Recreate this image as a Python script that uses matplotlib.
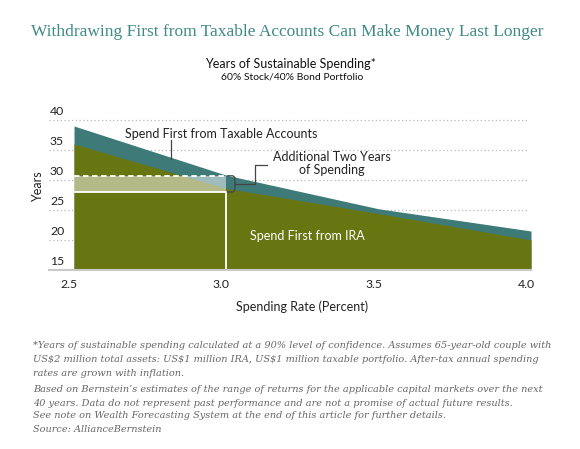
import numpy as np
import matplotlib
matplotlib.use("Agg")
import matplotlib.pyplot as plt
from matplotlib.transforms import blended_transform_factory as blend

# data
rate = [2.5, 3.0, 3.5, 4.0]
taxable_first = [39.0, 30.8, 25.2, 21.5]
ira_first = [36.0, 28.6, 24.4, 20.0]
gain_low, gain_high = 28.0, 30.7   # the "additional two years" band at 3.0%
xticks = [2.5, 3.0, 3.5, 4.0]
yticks = [15, 20, 25, 30, 35, 40]

teal = "#3e7a78"
olive = "#687612"
sans = "Lato"
fs = 9

fig = plt.figure(figsize=(5.8, 4.49), dpi=100)
W, H = 580, 449
ax = fig.add_axes([74 / W, 1 - 270 / H, (531 - 74) / W, 150 / H])
ax.set_xlim(2.5, 4.0)
ax.set_ylim(15, 40)
for s in ax.spines.values():
    s.set_visible(False)
ax.set_xticks([])
ax.set_yticks([])

# dotted grid that runs in under the tick labels
for v in yticks[1:]:
    ax.axhline(v, xmin=-25 / 457, xmax=0.994, color="#b8b8b8", lw=0.9,
               ls=(0, (1, 2)), clip_on=False, zorder=0)
ax.axhline(15, xmin=-25 / 457, xmax=1.0, color="#c9c9c9", lw=1.5,
           clip_on=False, zorder=5)

ax.fill_between(rate, 15, taxable_first, color=teal, lw=0, zorder=1)
ax.fill_between(rate, 15, ira_first, color=olive, lw=0, zorder=2)

# highlighted band from 2.5 to 3.0
ax.fill_between([2.5, 3.0], gain_low, gain_high, color="white", alpha=0.5,
                lw=0, zorder=3)
ax.plot([2.5, 3.0], [gain_high, gain_high], color="white", lw=1.3,
        ls=(0, (3, 2)), zorder=4)
ax.plot([2.5, 3.0, 3.0], [gain_low, gain_low, 15], color="white", lw=1.3,
        zorder=4)

# bracket + leader
ax.plot([3.004, 3.022, 3.028, 3.028, 3.022, 3.004],
        [30.7, 30.7, 30.4, 28.3, 28.0, 28.0], color="#444444", lw=0.9, zorder=4)
ax.plot([3.028, 3.095, 3.095, 3.135], [29.4, 29.4, 32.5, 32.5],
        color="#444444", lw=0.9, zorder=4)
ax.text(3.345, 32.7, "Additional Two Years\nof Spending", ha="center",
        va="center", fontsize=fs, family=sans, color="#222222", linespacing=1.1)

ax.text(2.982, 37.6, "Spend First from Taxable Accounts", ha="center",
        va="center", fontsize=fs, family=sans, color="#222222")
ax.plot([2.817, 2.817], [36.7, 33.5], color="#444444", lw=0.9, zorder=4)

ax.text(3.265, 20.7, "Spend First from IRA", ha="center", va="center",
        fontsize=fs, family=sans, color="white", zorder=6)

# tick labels
tr = blend(ax.transAxes, ax.transData)
for v in yticks:
    ax.text(-24 / 457, v + 1.35, str(v), ha="left", va="center", fontsize=8.8,
            family=sans, color="#222222", transform=tr)
trx = blend(ax.transData, ax.transAxes)
for v in xticks:
    ax.text(v - 5 / 304.7, -15 / 150, "%.1f" % v, ha="center", va="center",
            fontsize=8.8, family=sans, color="#222222", transform=trx)

ax.text(0.5, -36.7 / 150, "Spending Rate (Percent)", ha="center", va="center",
        fontsize=fs, family=sans, color="#222222", transform=ax.transAxes)
ax.text(-36 / 457, 0.555, "Years", rotation=90, ha="center", va="center",
        fontsize=fs, family=sans, color="#222222", transform=ax.transAxes)

# titles
fig.text(287 / W, 1 - 32 / H,
         "Withdrawing First from Taxable Accounts Can Make Money Last Longer",
         ha="center", va="center", fontsize=12.5, family="Liberation Serif",
         color="#3f8a86")
fig.text(290 / W, 1 - 64 / H, "Years of Sustainable Spending*", ha="center",
         va="center", fontsize=fs, family=sans, color="#111111")
fig.text(292 / W, 1 - 77 / H, "60% Stock/40% Bond Portfolio", ha="center",
         va="center", fontsize=7.5, family=sans, color="#111111")

notes = [
    "*Years of sustainable spending calculated at a 90% level of confidence. Assumes 65-year-old couple with",
    "US$2 million total assets: US$1 million IRA, US$1 million taxable portfolio. After-tax annual spending",
    "rates are grown with inflation.",
    "Based on Bernstein\u2019s estimates of the range of returns for the applicable capital markets over the next",
    "40 years. Data do not represent past performance and are not a promise of actual future results.",
    "See note on Wealth Forecasting System at the end of this article for further details.",
    "Source: AllianceBernstein",
]
note_y = [346, 360, 373, 389, 403, 416, 430]
for line, y in zip(notes, note_y):
    fig.text(33 / W, 1 - y / H, line, ha="left", va="center", fontsize=7,
             family="DejaVu Serif", style="italic", color="#666666")

fig.savefig("out.png", dpi=100)
